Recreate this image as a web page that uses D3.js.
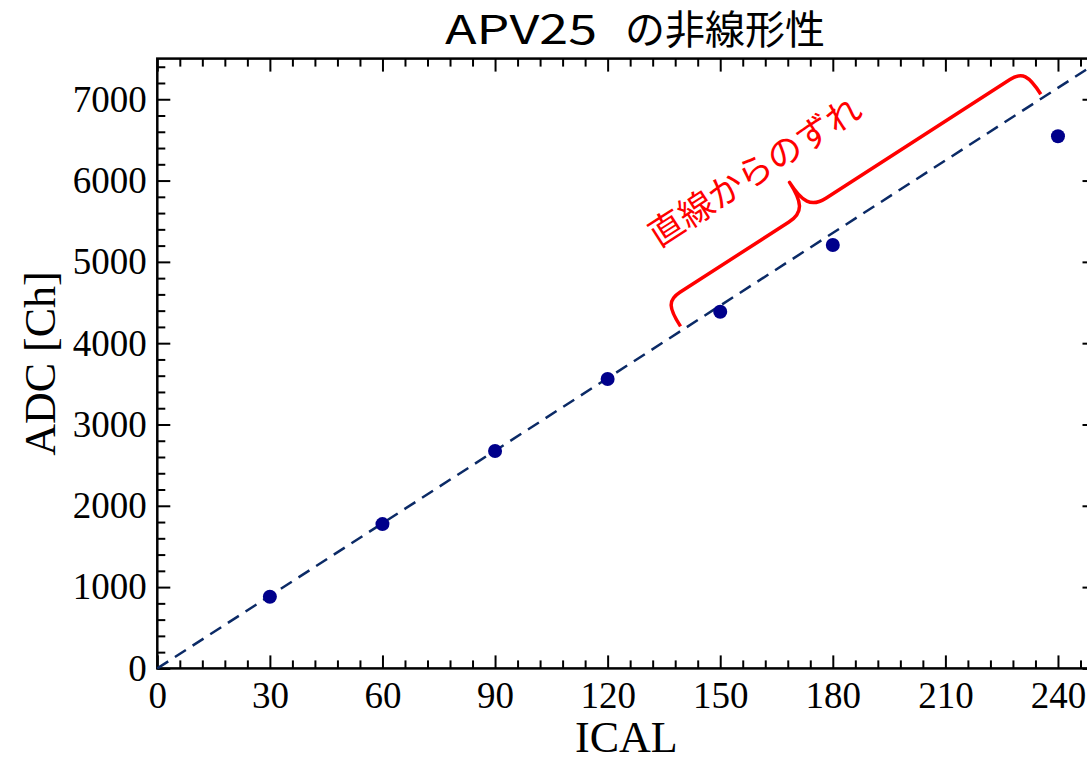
<!DOCTYPE html>
<html>
<head>
<meta charset="utf-8">
<script src="https://cdn.jsdelivr.net/npm/d3@7"></script>
<style>
  body { margin: 0; background: #fff; }
  svg { display: block; }
</style>
</head>
<body>
<div class="chart"></div>
<script>
// data
const icalValues = [30, 60, 90, 120, 150, 180, 240];
const adcValues = [882, 1775, 2674, 3560, 4386, 5208, 6545];
const xTickValues = [0, 30, 60, 90, 120, 150, 180, 210, 240];
const yTickValues = [0, 1000, 2000, 3000, 4000, 5000, 6000, 7000];
const fitSlope = 29.75; // ADC per ICAL, dashed line through origin

// brace annotation (ICAL range on the fitted line)
const braceFrom = 140, braceTo = 236, braceTip = 178;

//Width and height
const w = 1087;
const h = 757;

const svg = d3.select(".chart")
  .append("svg")
  .attr("width", w)
  .attr("height", h);

const x = d3.scaleLinear().domain([0, 250]).range([157.3, 1095.5]);
const y = d3.scaleLinear().domain([0, 7500]).range([668.4, 58.6]);

const serif = "'Liberation Serif', 'DejaVu Serif', serif";
const jp = "'Noto Sans CJK JP', 'Noto Sans', sans-serif";

// minor ticks (every 6 on x, every 200 on y), all pointing inward
const xMinor = d3.range(0, 251, 6).filter(v => v % 30 !== 0);
const yMinor = d3.range(0, 7501, 200).filter(v => v % 1000 !== 0);

function styleAxis(g) {
  g.select(".domain").remove();
  g.selectAll(".tick line").attr("stroke", "#000").attr("stroke-width", 2);
  g.selectAll("text").attr("fill", "#000").style("font-family", serif).style("font-size", "37px");
}

// bottom
svg.append("g").attr("transform", `translate(0,${y(0)})`)
  .call(d3.axisBottom(x).tickValues(xMinor).tickSize(-8).tickFormat(""))
  .call(styleAxis);
svg.append("g").attr("transform", `translate(0,${y(0)})`)
  .call(d3.axisBottom(x).tickValues(xTickValues).tickSize(-13).tickPadding(13).tickFormat(d3.format("d")))
  .call(styleAxis);
// top
svg.append("g").attr("transform", `translate(0,${y(7500)})`)
  .call(d3.axisTop(x).tickValues(xMinor).tickSize(-8).tickFormat(""))
  .call(styleAxis);
svg.append("g").attr("transform", `translate(0,${y(7500)})`)
  .call(d3.axisTop(x).tickValues(xTickValues).tickSize(-13).tickFormat(""))
  .call(styleAxis);
// left
svg.append("g").attr("transform", `translate(${x(0)},0)`)
  .call(d3.axisLeft(y).tickValues(yMinor).tickSize(-8).tickFormat(""))
  .call(styleAxis);
svg.append("g").attr("transform", `translate(${x(0)},0)`)
  .call(d3.axisLeft(y).tickValues(yTickValues).tickSize(-13).tickPadding(10.5).tickFormat(d3.format("d")))
  .call(styleAxis);
// right
svg.append("g").attr("transform", `translate(${x(250)},0)`)
  .call(d3.axisRight(y).tickValues(yMinor).tickSize(-8).tickFormat(""))
  .call(styleAxis);
svg.append("g").attr("transform", `translate(${x(250)},0)`)
  .call(d3.axisRight(y).tickValues(yTickValues).tickSize(-13).tickFormat(""))
  .call(styleAxis);

// frame
svg.append("rect")
  .attr("x", x(0)).attr("y", y(7500))
  .attr("width", x(250) - x(0)).attr("height", y(0) - y(7500))
  .attr("fill", "none").attr("stroke", "#000").attr("stroke-width", 2.5);

// fitted line
svg.append("line")
  .attr("x1", x(0)).attr("y1", y(0))
  .attr("x2", x(250)).attr("y2", y(fitSlope * 250))
  .attr("stroke", "#0b2a66")
  .attr("stroke-width", 2.5)
  .attr("stroke-dasharray", "13,8");

// measured points
svg.selectAll("circle.pt")
  .data(icalValues)
  .enter()
  .append("circle")
  .attr("class", "pt")
  .attr("cx", (d, i) => x(d))
  .attr("cy", (d, i) => y(adcValues[i]))
  .attr("r", 7)
  .attr("fill", "#00008b");

// curly brace, drawn in a frame rotated along the fitted line
const p0 = [x(braceFrom), y(fitSlope * braceFrom)];
const p1 = [x(braceTo), y(fitSlope * braceTo)];
const pt = [x(braceTip), y(fitSlope * braceTip)];
const len = Math.hypot(p1[0] - p0[0], p1[1] - p0[1]);
const ang = Math.atan2(p1[1] - p0[1], p1[0] - p0[0]) * 180 / Math.PI;
const tipA = Math.hypot(pt[0] - p0[0], pt[1] - p0[1]);
const armH = 33, tipH = 66, r = 18, rt = 22, e = 4;

const bp = d3.path();
bp.moveTo(0, -e);
bp.bezierCurveTo(0, -armH * 0.8, r * 0.2, -armH, r, -armH);
bp.lineTo(tipA - rt, -armH);
bp.bezierCurveTo(tipA - rt * 0.2, -armH, tipA, -(armH + (tipH - armH) * 0.3), tipA, -tipH);
bp.bezierCurveTo(tipA, -(armH + (tipH - armH) * 0.3), tipA + rt * 0.2, -armH, tipA + rt, -armH);
bp.lineTo(len - r, -armH);
bp.bezierCurveTo(len - r * 0.2, -armH, len, -armH * 0.8, len, -e);

const brace = svg.append("g")
  .attr("transform", `translate(${p0[0]},${p0[1]}) rotate(${ang})`);

brace.append("path")
  .attr("d", bp.toString())
  .attr("fill", "none")
  .attr("stroke", "#ff0000")
  .attr("stroke-width", 3.5)
  .attr("stroke-linejoin", "round");

brace.append("text")
  .attr("x", tipA - 23)
  .attr("y", -97)
  .attr("text-anchor", "middle")
  .attr("dominant-baseline", "central")
  .attr("fill", "#ff0000")
  .style("font-family", jp)
  .style("font-size", "35px")
  .text("直線からのずれ");

// title (latin part in the reference font is wide, so it is stretched to match)
const title = svg.append("text")
  .attr("y", 44)
  .attr("fill", "#000")
  .style("font-family", jp)
  .style("font-size", "40px");
title.append("tspan")
  .attr("x", 445)
  .attr("textLength", 152)
  .attr("lengthAdjust", "spacingAndGlyphs")
  .text("APV25");
title.append("tspan")
  .attr("x", 625)
  .text(" の非線形性".trim());

// axis labels
svg.append("text")
  .attr("x", (x(0) + x(250)) / 2)
  .attr("y", 752)
  .attr("text-anchor", "middle")
  .attr("fill", "#000")
  .style("font-family", serif)
  .style("font-size", "44px")
  .text("ICAL");

svg.append("text")
  .attr("transform", `translate(55,${(y(0) + y(7500)) / 2}) rotate(-90)`)
  .attr("text-anchor", "middle")
  .attr("fill", "#000")
  .style("font-family", serif)
  .style("font-size", "44px")
  .text("ADC [Ch]");
</script>
</body>
</html>
